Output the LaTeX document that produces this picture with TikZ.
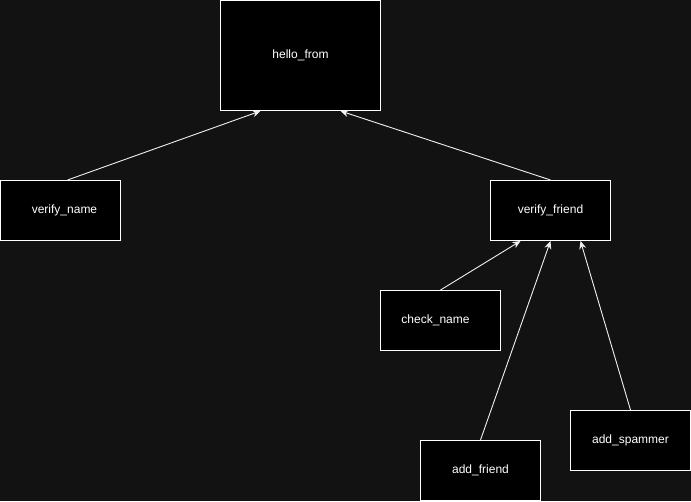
\documentclass[tikz,border=0pt]{standalone}
\usepackage{fontspec}
\setmainfont{Liberation Sans}
\usepackage{tikz}
\usetikzlibrary{calc, positioning, arrows.meta}
\usepackage{xcolor}
\definecolor{canvas}{RGB}{18, 18, 18}
\definecolor{boxfill}{RGB}{0, 0, 0}
\definecolor{linecol}{RGB}{240, 240, 240}

\begin{document}
\begin{tikzpicture}[x=1pt, y=-1pt, >={Stealth[length=8pt, width=7pt]},
    font=\fontsize{12}{14}\selectfont,
    fnbox/.style={draw=white, fill=boxfill, text=white, line width=1pt,
      minimum width=120pt, minimum height=60pt, inner sep=0pt},
    calls/.style={->, draw=linecol, line width=0.9pt}]
  % Background
  \fill[canvas] (0,0) rectangle (691,501);
  \useasboundingbox (0,0) rectangle (691,501);

  % Functions
  \node[fnbox, minimum width=160pt, minimum height=110pt] (hello_from) at (300.5,55.5) {hello\_from};
  \node[fnbox] (verify_name) at (60.5,210.5) {\hspace*{8pt}verify\_name};
  \node[fnbox] (verify_friend) at (550.5,210.5) {verify\_friend};
  \node[fnbox] (check_name) at (440.5,320.5) {check\_name\hspace*{10pt}};
  \node[fnbox] (add_friend) at (480.5,470.5) {add\_friend};
  \node[fnbox] (add_spammer) at (630.5,440.5) {add\_spammer};

  % Calls
  \draw[calls] ($(verify_name.north)+(7,0)$) -- ($(hello_from.south)+(-40,0)$);
  \draw[calls] (verify_friend.north) -- ($(hello_from.south)+(40,0)$);
  \draw[calls] (check_name.north) -- ($(verify_friend.south)+(-30,0)$);
  \draw[calls] (add_friend.north) -- (verify_friend.south);
  \draw[calls] (add_spammer.north) -- ($(verify_friend.south)+(30,0)$);
\end{tikzpicture}
\end{document}
